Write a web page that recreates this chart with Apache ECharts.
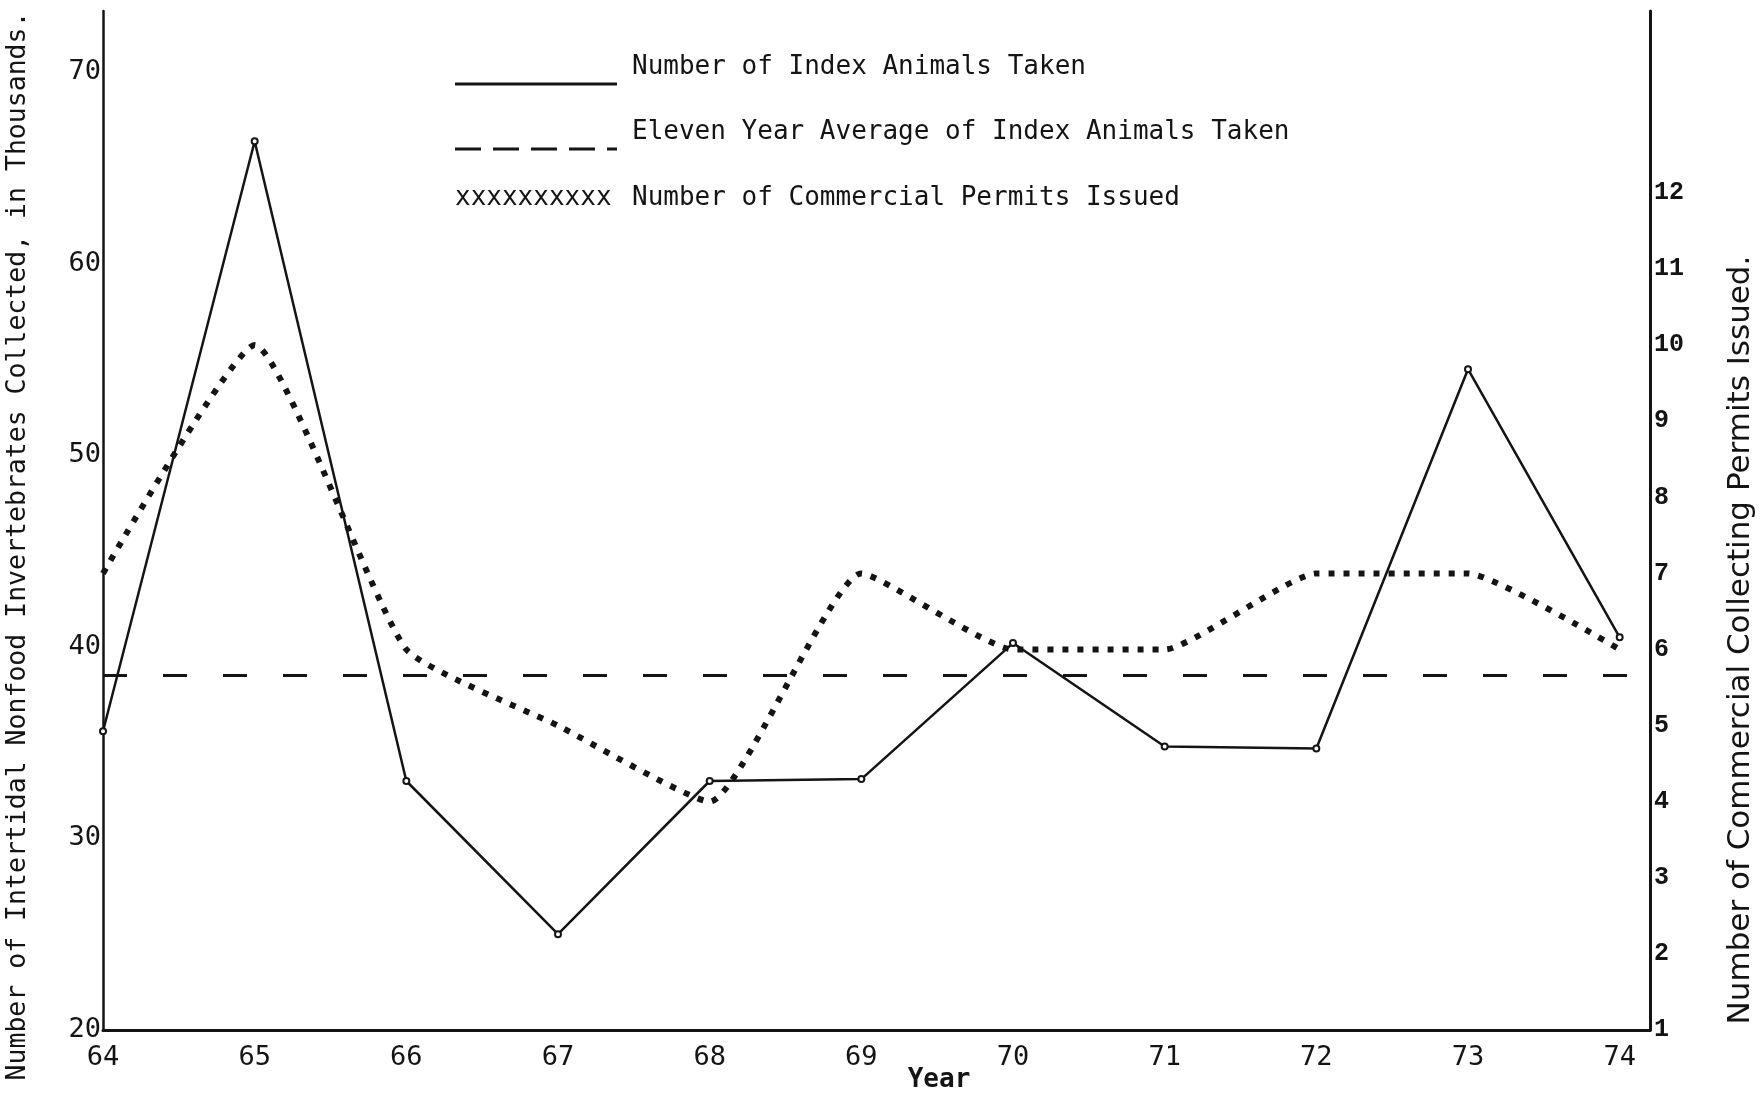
<!DOCTYPE html>
<html>
<head>
<meta charset="utf-8">
<script src="https://cdn.jsdelivr.net/npm/echarts@6/dist/echarts.min.js"></script>
<style>
  html, body { margin: 0; padding: 0; background: #fff; }
  #chart { width: 1760px; height: 1096px; }
</style>
</head>
<body>
<div id="chart"></div>
<script>
var myChart = echarts.init(document.getElementById('chart'));

// years on the x axis
var years = [64, 65, 66, 67, 68, 69, 70, 71, 72, 73, 74];
// number of index animals taken, thousands (left axis)
var indexAnimals = [35.6, 66.4, 33.0, 25.0, 33.0, 33.1, 40.2, 34.8, 34.7, 54.5, 40.5];
// eleven year average, thousands (left axis)
var elevenYearAverage = 38.5;
// commercial collecting permits issued (right axis)
var permits = [7, 10, 6, 5, 4, 7, 6, 6, 7, 7, 6];

var legendNames = [
    'Number of Index Animals Taken',
    'Eleven Year Average of Index Animals Taken',
    'Number of Commercial Permits Issued'
];
var leftTitle = 'Number of Intertidal Nonfood Invertebrates Collected, in Thousands.';
var rightTitle = 'Number of Commercial Collecting Permits Issued.';

// pair each value with its year
function pairs(values) {
    return years.map(function (y, i) { return [y, values[i]]; });
}

var mono = '"DejaVu Sans Mono", "Liberation Mono", monospace';
var ink = '#141414';

var option = {
    backgroundColor: '#fff',
    animation: false,
    grid: { left: 103, right: 110, top: 11, bottom: 66 },
    xAxis: {
        type: 'value',
        min: 64,
        max: 74.2,
        interval: 1,
        axisLine: { lineStyle: { color: ink, width: 3 } },
        axisTick: { show: false },
        axisLabel: {
            color: ink, fontFamily: mono, fontSize: 27, margin: 14,
            formatter: function (v) { return v % 1 === 0 ? v : ''; }
        },
        splitLine: { show: false }
    },
    yAxis: [{
        type: 'value',
        min: 20,
        max: 73.2,
        interval: 10,
        axisLine: { show: true, lineStyle: { color: ink, width: 2.5 } },
        axisTick: { show: false },
        axisLabel: {
            color: ink, fontFamily: mono, fontSize: 27, margin: 2,
            formatter: function (v) { return v % 10 === 0 ? v : ''; }
        },
        splitLine: { show: false }
    }, {
        type: 'value',
        position: 'right',
        min: 1,
        max: 14.39,
        interval: 1,
        axisLine: { show: true, lineStyle: { color: ink, width: 3 } },
        axisTick: { show: false },
        axisLabel: {
            color: ink, fontFamily: '"Liberation Mono", monospace', fontWeight: 'bold',
            fontSize: 25, margin: 4,
            formatter: function (v) { return (v <= 12 && v % 1 === 0) ? v : ''; }
        },
        splitLine: { show: false }
    }],
    series: [{
        name: legendNames[0],
        type: 'line',
        data: pairs(indexAnimals),
        symbol: 'emptyCircle',
        symbolSize: 6,
        lineStyle: { color: ink, width: 2.5 },
        itemStyle: { color: ink, borderWidth: 1.2 }
    }, {
        name: legendNames[1],
        type: 'line',
        data: [],
        markLine: {
            silent: true,
            symbol: 'none',
            label: { show: false },
            lineStyle: { color: ink, width: 3, type: [24, 36] },
            data: [{ yAxis: elevenYearAverage }]
        }
    }, {
        name: legendNames[2],
        type: 'line',
        yAxisIndex: 1,
        data: pairs(permits),
        smooth: 0.15,
        symbol: 'none',
        lineStyle: { color: ink, width: 6, type: [6, 9] }
    }],
    graphic: [
        // legend block
        { type: 'line', shape: { x1: 455, y1: 84, x2: 617, y2: 84 }, style: { stroke: ink, lineWidth: 3 } },
        { type: 'text', x: 632, y: 67, style: { text: legendNames[0], font: '26px ' + mono, fill: ink, textVerticalAlign: 'middle' } },
        { type: 'line', shape: { x1: 455, y1: 149, x2: 617, y2: 149 }, style: { stroke: ink, lineWidth: 3, lineDash: [26, 12] } },
        { type: 'text', x: 632, y: 132, style: { text: legendNames[1], font: '26px ' + mono, fill: ink, textVerticalAlign: 'middle' } },
        { type: 'text', x: 455, y: 198, style: { text: 'xxxxxxxxxx', font: '26px ' + mono, fill: ink, textVerticalAlign: 'middle' } },
        { type: 'text', x: 632, y: 198, style: { text: legendNames[2], font: '26px ' + mono, fill: ink, textVerticalAlign: 'middle' } },
        // axis titles
        { type: 'text', x: 18, y: 546, rotation: Math.PI / 2,
          style: { text: leftTitle, font: '26.5px ' + mono, fill: ink, textAlign: 'center', textVerticalAlign: 'middle' } },
        { type: 'text', x: 1741, y: 640, rotation: Math.PI / 2,
          style: { text: rightTitle, font: '31px "DejaVu Sans", sans-serif', fill: ink, textAlign: 'center', textVerticalAlign: 'middle' } },
        { type: 'text', x: 939, y: 1080, style: { text: 'Year', font: 'bold 26px ' + mono, fill: ink, textAlign: 'center', textVerticalAlign: 'middle' } }
    ]
};

myChart.setOption(option);
</script>
</body>
</html>
